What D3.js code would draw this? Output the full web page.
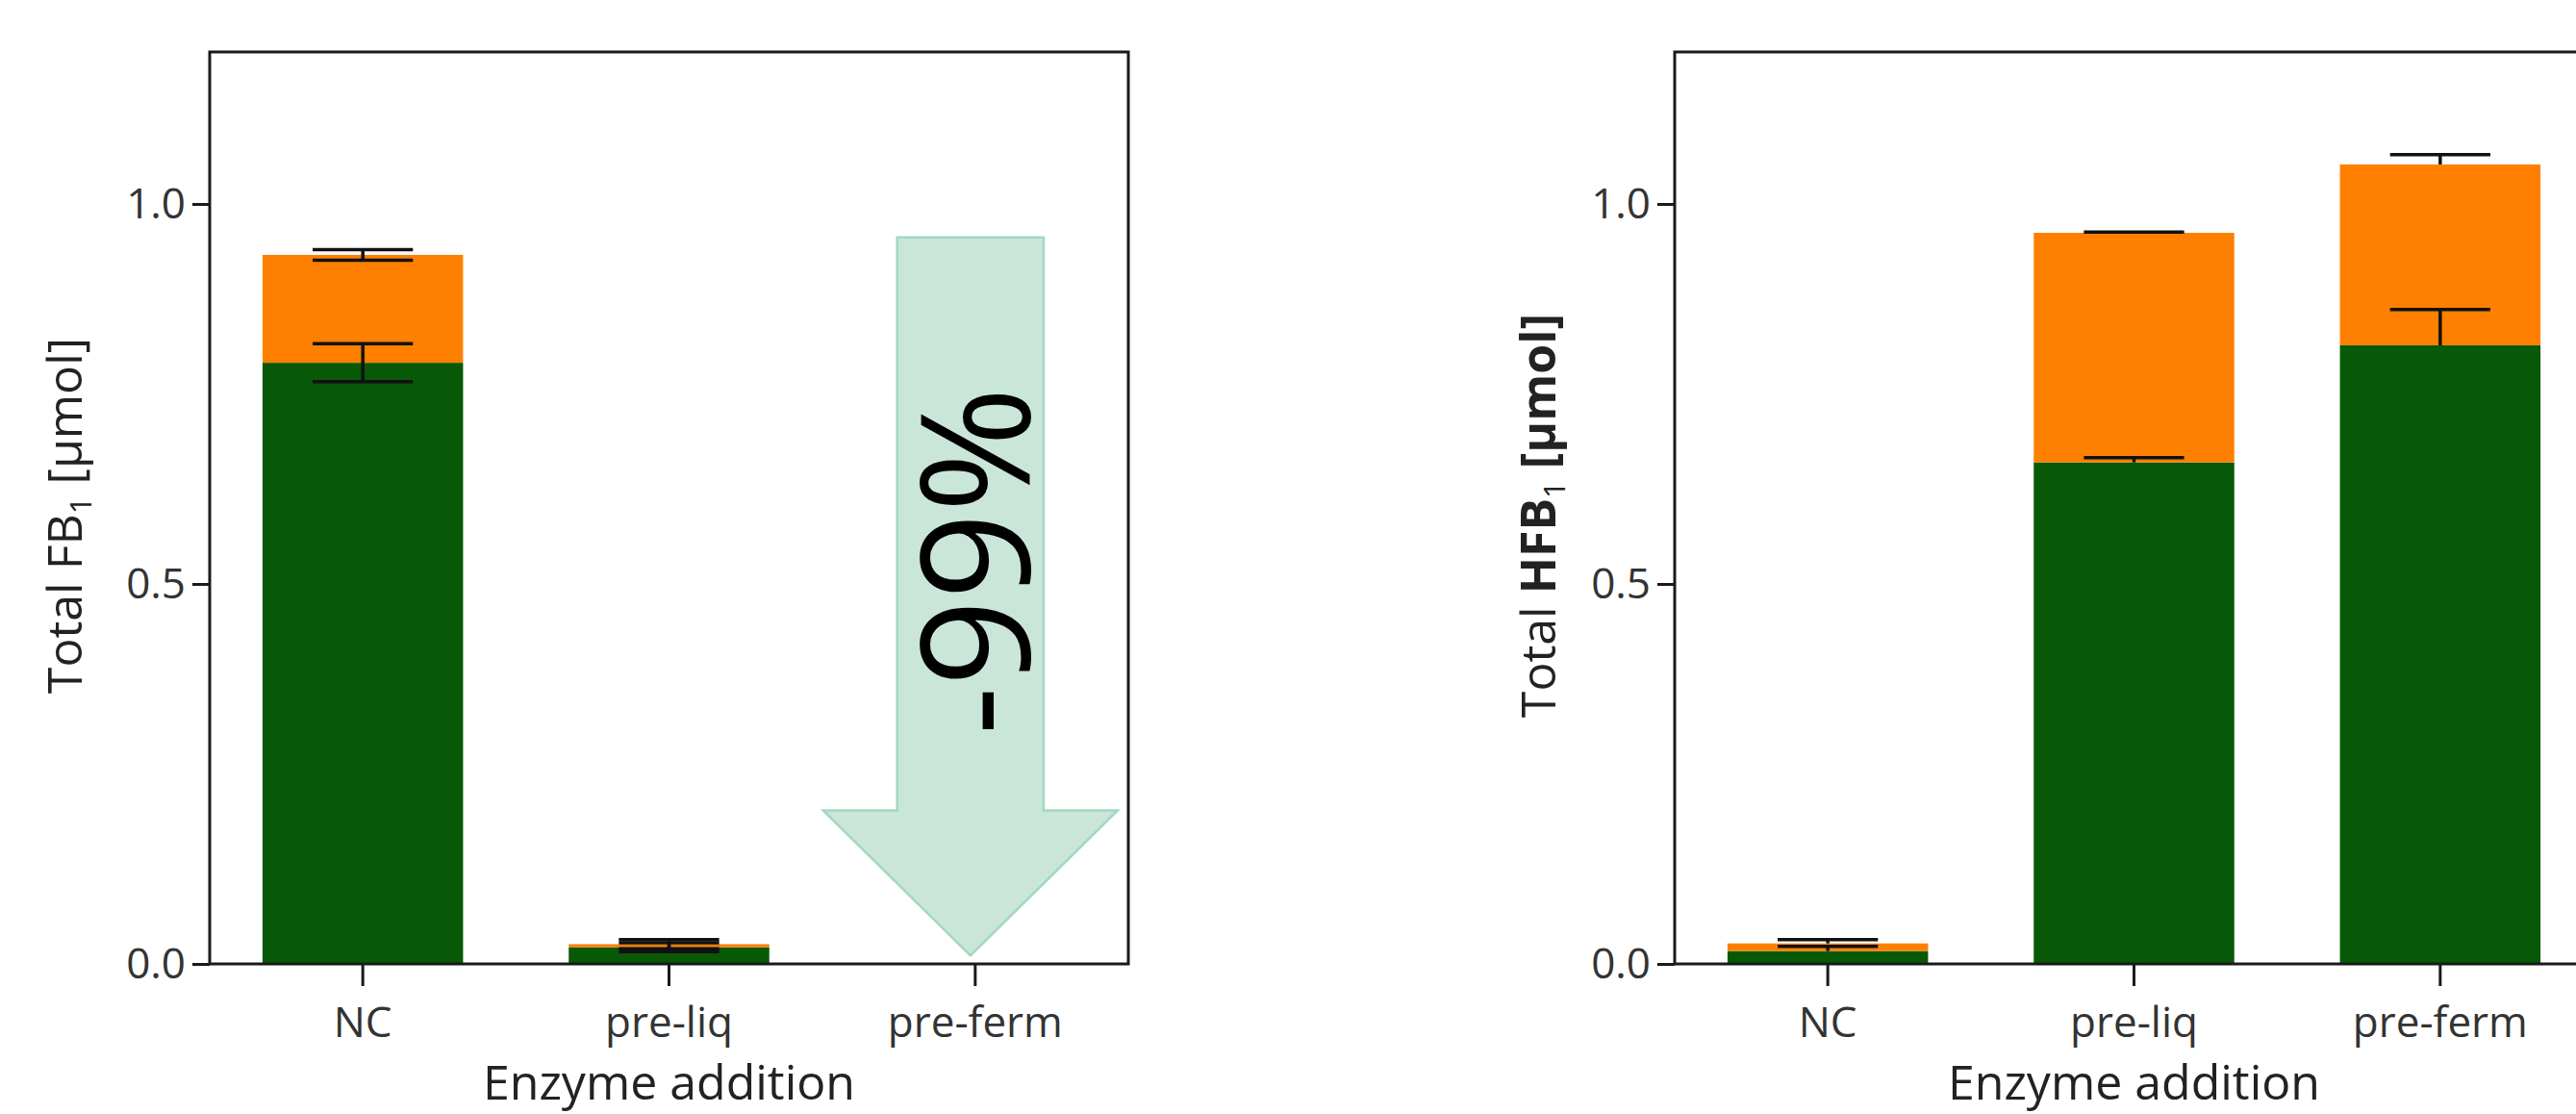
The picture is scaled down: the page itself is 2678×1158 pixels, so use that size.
<!DOCTYPE html>
<html>
<head>
<meta charset="utf-8">
<script src="https://cdn.jsdelivr.net/npm/d3@7"></script>
<style>
  html, body { margin: 0; padding: 0; background: #fff; }
  svg { display: block; }
</style>
</head>
<body>
<script>
const categories = ['NC', 'pre-liq', 'pre-ferm'];
const yTicks = [0, 0.5, 1.0];

// left panel: total FB1
const fb1Lower = [0.791, 0.022, 0];
const fb1Upper = [0.142, 0.004, 0];
const fb1LowerErr = [0.025, 0.006, 0];
const fb1TotalErr = [0.007, 0.006, 0];

// right panel: total HFB1
const hfb1Lower = [0.017, 0.660, 0.814];
const hfb1Upper = [0.010, 0.302, 0.238];
const hfb1LowerErr = [0.006, 0.006, 0.047];
const hfb1TotalErr = [0.005, 0.001, 0.013];

// reduction arrow drawn over pre-ferm in the left panel
const arrowCategory = 'pre-ferm';
const arrowFrom = 0.956;
const arrowHeadAt = 0.202;
const arrowTo = 0.011;
const arrowLabel = '-99%';
const arrowLabelAt = 0.53;

const W = 2678, H = 1158;
const plotW = 955, plotTop = 54, plotBottom = 1002;
const green = '#075907', orange = '#ff8000', ink = '#1a1a1a';
const font = '"Open Sans", sans-serif';

const svg = d3.select('body').append('svg')
  .attr('width', W)
  .attr('height', H)
  .attr('font-family', font);

const y = d3.scaleLinear().domain([0, 1.2]).range([plotBottom, plotTop]);

function drawPanel(opts) {
  const x = d3.scaleBand()
    .domain(categories)
    .range([0, plotW])
    .paddingInner(0.345)
    .paddingOuter(0.1725);
  const bw = x.bandwidth();
  const cx = c => x(c) + bw / 2;

  const g = svg.append('g').attr('transform', `translate(${opts.left},0)`);

  const rows = categories.map((c, i) => ({
    c,
    lo: opts.lower[i],
    hi: opts.lower[i] + opts.upper[i],
    loErr: opts.lowerErr[i],
    hiErr: opts.totalErr[i]
  }));

  g.selectAll('rect.lower')
    .data(rows)
    .join('rect')
    .attr('class', 'lower')
    .attr('x', d => x(d.c))
    .attr('width', bw)
    .attr('y', d => y(d.lo))
    .attr('height', d => y(0) - y(d.lo))
    .attr('fill', green);

  g.selectAll('rect.upper')
    .data(rows)
    .join('rect')
    .attr('class', 'upper')
    .attr('x', d => x(d.c))
    .attr('width', bw)
    .attr('y', d => y(d.hi))
    .attr('height', d => y(d.lo) - y(d.hi))
    .attr('fill', orange);

  const errs = rows
    .flatMap(d => [{ c: d.c, v: d.lo, e: d.loErr }, { c: d.c, v: d.hi, e: d.hiErr }])
    .filter(d => d.v > 0);
  const capW = bw * 0.5;
  const lowEnd = d => opts.twoSided ? d.v - d.e : d.v;

  const eb = g.append('g')
    .attr('stroke', '#111')
    .attr('stroke-width', 3.5);
  eb.selectAll('line.stem')
    .data(errs)
    .join('line')
    .attr('class', 'stem')
    .attr('x1', d => cx(d.c))
    .attr('x2', d => cx(d.c))
    .attr('y1', d => y(d.v + d.e))
    .attr('y2', d => y(lowEnd(d)));
  eb.selectAll('line.capHi')
    .data(errs)
    .join('line')
    .attr('class', 'capHi')
    .attr('x1', d => cx(d.c) - capW / 2)
    .attr('x2', d => cx(d.c) + capW / 2)
    .attr('y1', d => y(d.v + d.e))
    .attr('y2', d => y(d.v + d.e));
  if (opts.twoSided) {
    eb.selectAll('line.capLo')
      .data(errs)
      .join('line')
      .attr('class', 'capLo')
      .attr('x1', d => cx(d.c) - capW / 2)
      .attr('x2', d => cx(d.c) + capW / 2)
      .attr('y1', d => y(lowEnd(d)))
      .attr('y2', d => y(lowEnd(d)));
  }

  if (opts.arrow) {
    const ax = cx(arrowCategory) - 5;
    const sh = bw * 0.365, hh = bw * 0.734;
    const pts = [
      [ax - sh, y(arrowFrom)], [ax + sh, y(arrowFrom)],
      [ax + sh, y(arrowHeadAt)], [ax + hh, y(arrowHeadAt)],
      [ax, y(arrowTo)],
      [ax - hh, y(arrowHeadAt)], [ax - sh, y(arrowHeadAt)]
    ];
    g.append('polygon')
      .attr('points', pts.map(p => p.join(',')).join(' '))
      .attr('fill', '#c9e6d9')
      .attr('stroke', '#a3d7bf')
      .attr('stroke-width', 2.5);
    g.append('text')
      .attr('transform', `translate(${ax + sh * 0.8},${y(arrowLabelAt)}) rotate(-90)`)
      .attr('text-anchor', 'middle')
      .attr('font-size', 158)
      .attr('fill', '#000')
      .text(arrowLabel);
  }

  g.append('rect')
    .attr('x', 0)
    .attr('y', plotTop)
    .attr('width', plotW)
    .attr('height', plotBottom - plotTop)
    .attr('fill', 'none')
    .attr('stroke', ink)
    .attr('stroke-width', 3);

  g.append('g')
    .call(d3.axisLeft(y).tickValues(yTicks).tickFormat(d3.format('.1f')).tickSize(18).tickPadding(7))
    .attr('font-family', font)
    .attr('font-size', 44)
    .call(a => a.select('.domain').remove())
    .call(a => a.selectAll('line').attr('stroke', ink).attr('stroke-width', 3))
    .call(a => a.selectAll('text').attr('fill', '#333'));

  g.append('g')
    .attr('transform', `translate(0,${plotBottom})`)
    .call(d3.axisBottom(x).tickSize(23).tickPadding(22))
    .attr('font-family', font)
    .attr('font-size', 44)
    .call(a => a.select('.domain').remove())
    .call(a => a.selectAll('line').attr('stroke', ink).attr('stroke-width', 3))
    .call(a => a.selectAll('text').attr('fill', '#333'));

  g.append('text')
    .attr('x', plotW / 2)
    .attr('y', 1143)
    .attr('text-anchor', 'middle')
    .attr('font-size', 50)
    .attr('fill', '#222')
    .text('Enzyme addition');

  const t = g.append('text')
    .attr('transform', `translate(${opts.titleX},${(plotTop + plotBottom) / 2 + 8}) rotate(-90)`)
    .attr('text-anchor', 'middle')
    .attr('font-size', 50)
    .attr('fill', '#222');
  t.append('tspan').text('Total ');
  t.append('tspan').attr('font-weight', opts.boldName ? 700 : 400).text(opts.name);
  t.append('tspan').attr('font-size', 31).attr('dy', 10).text('1');
  t.append('tspan').attr('dy', -10).attr('font-weight', opts.boldName ? 700 : 400).text('  [µmol]');
}

drawPanel({
  left: 218, lower: fb1Lower, upper: fb1Upper, lowerErr: fb1LowerErr, totalErr: fb1TotalErr,
  twoSided: true, arrow: true, titleX: -133, name: 'FB', boldName: false
});
drawPanel({
  left: 1741, lower: hfb1Lower, upper: hfb1Upper, lowerErr: hfb1LowerErr, totalErr: hfb1TotalErr,
  twoSided: false, arrow: false, titleX: -124, name: 'HFB', boldName: true
});
</script>
</body>
</html>
